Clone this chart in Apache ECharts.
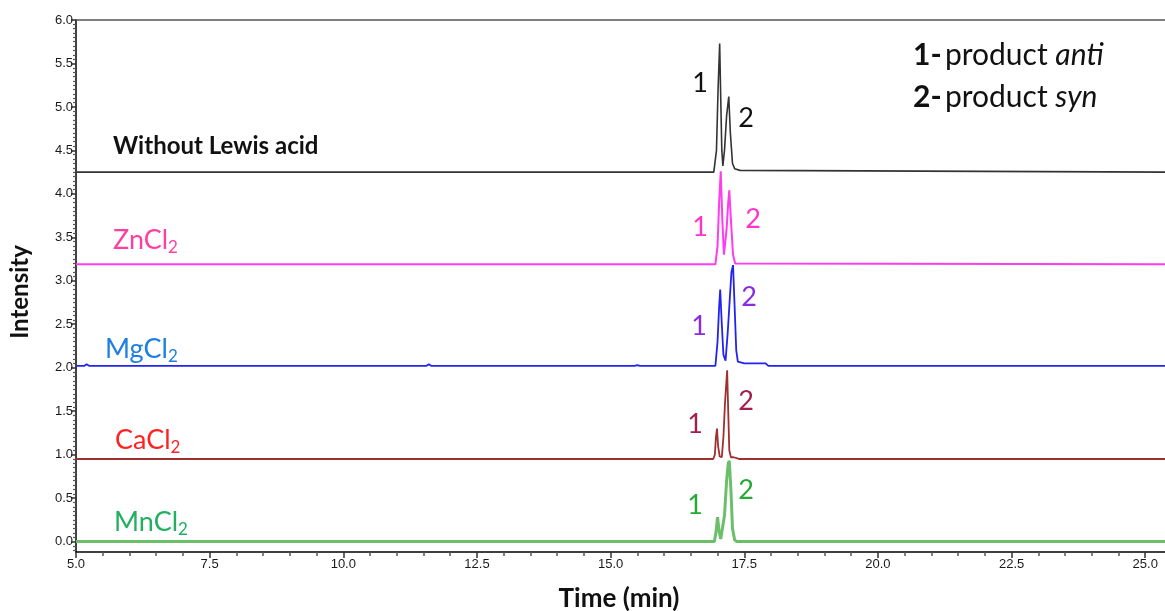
<!DOCTYPE html>
<html><head><meta charset="utf-8">
<script src="https://cdn.jsdelivr.net/npm/echarts@6/dist/echarts.min.js"></script>
<style>html,body{margin:0;padding:0;background:#fff}#c{width:1165px;height:611px}</style>
</head><body><div id="c"></div>
<script>
// ---- data ----
const xTicks = [5.0, 7.5, 10.0, 12.5, 15.0, 17.5, 20.0, 22.5, 25.0];
const yTicks = [0.0, 0.5, 1.0, 1.5, 2.0, 2.5, 3.0, 3.5, 4.0, 4.5, 5.0, 5.5, 6.0];

const noLewisT = [5.0, 16.93, 16.98, 17.01, 17.04, 17.06, 17.08, 17.10, 17.13, 17.17, 17.21, 17.24, 17.28, 17.32, 17.42, 17.45, 25.37];
const noLewisI = [4.25, 4.25, 4.50, 5.20, 5.73, 5.10, 4.50, 4.32, 4.50, 4.90, 5.12, 4.70, 4.35, 4.29, 4.27, 4.25, 4.25];

const znT = [5.0, 16.96, 17.00, 17.03, 17.06, 17.09, 17.12, 17.14, 17.17, 17.20, 17.22, 17.25, 17.29, 17.33, 17.36, 25.37];
const znI = [3.19, 3.19, 3.40, 3.90, 4.26, 3.70, 3.30, 3.28, 3.60, 3.90, 4.04, 3.70, 3.30, 3.20, 3.19, 3.19];

const mgT = [5.0, 5.15, 5.2, 5.25, 11.55, 11.6, 11.65, 15.45, 15.5, 15.55, 16.96, 17.00, 17.03, 17.05, 17.08, 17.11, 17.15, 17.19, 17.23, 17.26, 17.29, 17.32, 17.35, 17.38, 17.50, 17.90, 17.95, 25.37];
const mgI = [2.02, 2.02, 2.04, 2.02, 2.02, 2.04, 2.02, 2.02, 2.03, 2.02, 2.02, 2.30, 2.70, 2.90, 2.50, 2.15, 2.08, 2.40, 2.80, 3.10, 3.18, 2.70, 2.20, 2.07, 2.05, 2.05, 2.02, 2.02];

const caT = [5.0, 16.92, 16.95, 16.97, 16.99, 17.01, 17.04, 17.08, 17.11, 17.14, 17.18, 17.20, 17.22, 17.25, 17.30, 17.36, 17.40, 25.37];
const caI = [0.95, 0.95, 1.00, 1.20, 1.30, 1.10, 0.98, 0.97, 1.20, 1.60, 1.97, 1.50, 1.05, 0.97, 0.97, 0.96, 0.95, 0.95];

const mnT = [5.0, 16.94, 16.97, 17.00, 17.03, 17.06, 17.09, 17.13, 17.17, 17.20, 17.22, 17.25, 17.28, 17.32, 17.36, 25.37];
const mnI = [0.0, 0.0, 0.10, 0.28, 0.12, 0.03, 0.02, 0.30, 0.70, 0.90, 0.93, 0.60, 0.15, 0.02, 0.0, 0.0];

// ---- chart ----
const zip = (a, b) => a.map((v, i) => [v, b[i]]);
const minorY = [];
for (let k = -2; k <= 120; k++) { if (k % 10 !== 0) minorY.push(+(k * 0.05).toFixed(2)); }

const FONT = 'Lato, "Open Sans", sans-serif';
const chart = echarts.init(document.getElementById('c'), null, {renderer: 'canvas'});

function line(name, t, v, color, w) {
  return {
    name, type: 'line', data: zip(t, v), showSymbol: false, symbol: 'none',
    lineStyle: {color, width: w}, itemStyle: {color}, animation: false, z: 3
  };
}

const option = {
  backgroundColor: '#fff',
  animation: false,
  grid: {left: 76, right: 0, top: 20, bottom: 59, containLabel: false},
  xAxis: [{
    type: 'value', min: 5.0, max: 25.37, interval: 2.5,
    axisLine: {show: true, onZero: false, lineStyle: {color: '#000', width: 1.5}},
    axisTick: {show: true, inside: false, length: 6, lineStyle: {color: '#333', width: 1.5}, customValues: xTicks},
    minorTick: {show: true, splitNumber: 5, length: 4, lineStyle: {color: '#555', width: 1.5}},
    axisLabel: {customValues: xTicks, formatter: v => v.toFixed(1), color: '#1a1a1a', fontSize: 13, fontFamily: 'Liberation Sans, Arial', margin: 6},
    splitLine: {show: false}
  }, {
    type: 'value', position: 'top', min: 5.0, max: 25.37,
    axisLine: {show: true, onZero: false, lineStyle: {color: '#555', width: 1.5}},
    axisTick: {show: false}, axisLabel: {show: false}, splitLine: {show: false}
  }],
  yAxis: [{
    type: 'value', min: -0.12, max: 6.0,
    axisLine: {show: true, onZero: false, lineStyle: {color: '#000', width: 1.5}},
    axisTick: {show: true, length: 5, customValues: yTicks, lineStyle: {color: '#333', width: 1.5}},
    axisLabel: {customValues: yTicks, formatter: v => v.toFixed(1), color: '#1a1a1a', fontSize: 13, fontFamily: 'Liberation Sans, Arial', margin: 3},
    splitLine: {show: false}
  }, {
    type: 'value', position: 'left', min: -0.12, max: 6.0,
    axisLine: {show: false},
    axisTick: {show: true, length: 3, customValues: minorY, lineStyle: {color: '#555', width: 1.2}},
    axisLabel: {show: false}, splitLine: {show: false}
  }],
  series: [
    line('MnCl2', mnT, mnI, '#6cbf6a', 3),
    line('CaCl2', caT, caI, '#a03030', 1.8),
    line('MgCl2', mgT, mgI, '#2323f0', 1.8),
    line('ZnCl2', znT, znI, '#ff3cf0', 2),
    line('Without Lewis acid', noLewisT, noLewisI, '#333333', 1.6)
  ]
};
chart.setOption(option);

// ---- annotations ----
function txt(x, y, text, color, size, opts) {
  return {
    type: 'text', x, y, z: 10,
    style: {text, fill: color, font: `${(opts && opts.weight) || 'normal'} ${size}px ${FONT}`,
      textAlign: (opts && opts.align) || 'left', textVerticalAlign: 'middle'}
  };
}
function chem(x, y, main, color) {
  return {
    type: 'text', x, y, z: 10,
    style: {
      text: `{m|${main}}{s|2}`, textVerticalAlign: 'middle',
      rich: {
        m: {fill: color, fontSize: 27, fontFamily: FONT, lineHeight: 32},
        s: {fill: color, fontSize: 17, fontFamily: FONT, verticalAlign: 'bottom', lineHeight: 20}
      }
    }
  };
}
const peakSize = 27;
const legRich = {
  b: {fontWeight: 'bold', fontSize: 30, fontFamily: FONT, fill: '#111'},
  r: {fontSize: 30, fontFamily: FONT, fill: '#111'},
  i: {fontStyle: 'italic', fontSize: 30, fontFamily: FONT, fill: '#111'}
};
const graphics = [
  txt(113, 146, 'Without Lewis acid', '#111', 24, {weight: 'bold'}),
  chem(113, 240, 'ZnCl', '#ff3fa0'),
  chem(105, 349, 'MgCl', '#1e7fe0'),
  chem(115, 440, 'CaCl', '#ff2020'),
  chem(114, 522, 'MnCl', '#22b060'),
  txt(700, 83, '1', '#111', peakSize, {align: 'center'}),
  txt(746, 118, '2', '#111', peakSize, {align: 'center'}),
  txt(700, 227, '1', '#ff33cc', peakSize, {align: 'center'}),
  txt(753, 219, '2', '#ff33cc', peakSize, {align: 'center'}),
  txt(699, 326, '1', '#8a2be2', peakSize, {align: 'center'}),
  txt(749, 297, '2', '#8a2be2', peakSize, {align: 'center'}),
  txt(695, 424, '1', '#a0204a', peakSize, {align: 'center'}),
  txt(746, 401, '2', '#a0204a', peakSize, {align: 'center'}),
  txt(695, 505, '1', '#22aa33', peakSize, {align: 'center'}),
  txt(746, 490, '2', '#22aa33', peakSize, {align: 'center'}),
  {type: 'text', x: 913, y: 55, z: 10, style: {text: '{b|1-} {r|product }{i|anti}', textVerticalAlign: 'middle', rich: legRich}},
  {type: 'text', x: 913, y: 97, z: 10, style: {text: '{b|2-} {r|product }{i|syn}', textVerticalAlign: 'middle', rich: legRich}},
  {type: 'text', x: 20, y: 292, rotation: Math.PI / 2, z: 10,
    style: {text: 'Intensity', fill: '#111', font: `bold 24px ${FONT}`, textAlign: 'center', textVerticalAlign: 'middle'}},
  {type: 'text', x: 619, y: 599, z: 10,
    style: {text: 'Time (min)', fill: '#111', font: `bold 26px ${FONT}`, textAlign: 'center', textVerticalAlign: 'middle'}}
];
chart.setOption({graphic: graphics});
</script>
</body></html>
